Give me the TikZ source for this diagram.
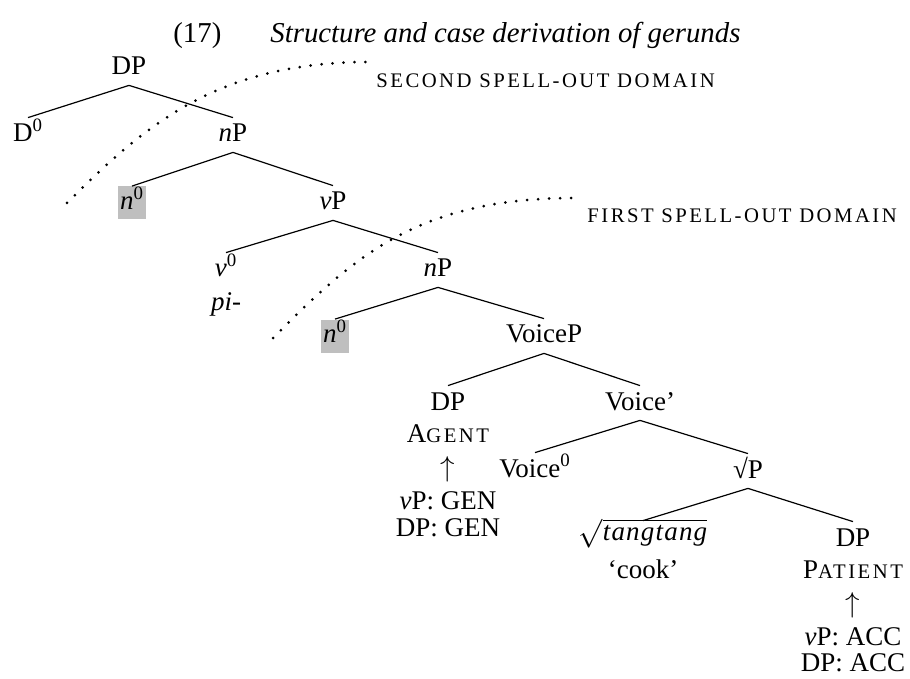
\documentclass[tikz,border=0pt]{standalone}
\usepackage{fontspec}
\setmainfont{Liberation Serif}
\newfontfamily\scfont[LetterSpace=12]{Liberation Serif}
\newcommand\smc[1]{{\scfont\fontsize{10.35}{12}\selectfont #1}}
\definecolor{boxgray}{gray}{0.75}
\begin{document}
\begin{tikzpicture}[x=0.5pt,y=-0.5pt,
  every node/.style={font=\fontsize{13.5}{16}\selectfont},
  tn/.style={anchor=base, inner sep=0pt, text height=12pt, text depth=5pt},
  hl/.style={anchor=base, inner xsep=1.2pt, inner ysep=0pt, text height=11.75pt, text depth=4.75pt, fill=boxgray},
  ann/.style={anchor=base, inner sep=0pt},
  edge/.style={line width=0.6pt},
  spell/.style={line width=1.5pt, line cap=round, dash pattern=on 0pt off 5.5pt},
  lbl/.style={anchor=base west, inner sep=0pt}
]
\useasboundingbox (0,0) rectangle (910,679);
% title
\node[lbl, font=\fontsize{14.4}{17}\selectfont] (num) at (173,43) {(17)};
\node[lbl, font=\fontsize{14.4}{17}\selectfont\itshape] (title) at (270,43) {Structure and case derivation of gerunds};
% tree nodes
\node[tn] (dp) at (129,75) {DP};
\node[tn] (d0) at (28,142) {D\textsuperscript{0}};
\node[tn] (np1) at (233,142) {\textit{n}P};
\node[hl] (n01) at (132,210) {\textit{n}\textsuperscript{0}};
\node[tn] (vp) at (333,210) {\textit{v}P};
\node[tn] (v0) at (226,277) {\textit{v}\textsuperscript{0}};
\node[ann] (pi) at (226,311) {\textit{pi-}};
\node[tn] (np2) at (438,277) {\textit{n}P};
\node[hl] (n02) at (335,343) {\textit{n}\textsuperscript{0}};
\node[tn] (voicep) at (544,343) {VoiceP};
\node[tn] (dpa) at (448,410) {DP};
\node[ann] (agent) at (448,442) {A\smc{GENT}};
\node[ann] (arra) at (448,476) {$\uparrow$};
\node[ann] (gen1) at (448,509) {\textit{v}P: GEN};
\node[ann] (gen2) at (448,536) {DP: GEN};
\node[tn] (voicebar) at (640,410) {Voice’};
\node[tn] (voice0) at (535,477) {Voice\textsuperscript{0}};
\node[tn] (rootp) at (748,478) {√P};
\node[tn, text height=9.5pt] (root) at (643,540) {$\sqrt{\hbox{\itshape t\kern0.6pt a\kern0.6pt n\kern0.6pt g\kern0.6pt t\kern0.6pt a\kern0.6pt n\kern0.6pt g}}$};
\node[ann] (cook) at (643,578) {‘cook’};
\node[tn] (dpp) at (853,546) {DP};
\node[ann] (patient) at (853,578) {P\smc{ATIENT}};
\node[ann] (arrp) at (853,612) {$\uparrow$};
\node[ann] (acc1) at (853,645) {\textit{v}P: ACC};
\node[ann] (acc2) at (853,671) {DP: ACC};
% edges
\draw[edge] (dp.south) -- (d0.north);
\draw[edge] (dp.south) -- (np1.north);
\draw[edge] (np1.south) -- (n01.north);
\draw[edge] (np1.south) -- (vp.north);
\draw[edge] (vp.south) -- (v0.north);
\draw[edge] (vp.south) -- (np2.north);
\draw[edge] (np2.south) -- (n02.north);
\draw[edge] (np2.south) -- (voicep.north);
\draw[edge] (voicep.south) -- (dpa.north);
\draw[edge] (voicep.south) -- (voicebar.north);
\draw[edge] (voicebar.south) -- (voice0.north);
\draw[edge] (voicebar.south) -- (rootp.north);
\draw[edge] (rootp.south) -- (root.north);
\draw[edge] (rootp.south) -- (dpp.north);
% spell-out domains
\draw[spell] (67,203) .. controls (146,124) and (218,62) .. (370,62);
\node[lbl] (second) at (376,88) {\smc{SECOND SPELL-OUT DOMAIN}};
\draw[spell] (273,338) .. controls (352,259) and (415,198) .. (575,198);
\node[lbl] (first) at (587,223) {\smc{FIRST SPELL-OUT DOMAIN}};
\end{tikzpicture}
\end{document}
